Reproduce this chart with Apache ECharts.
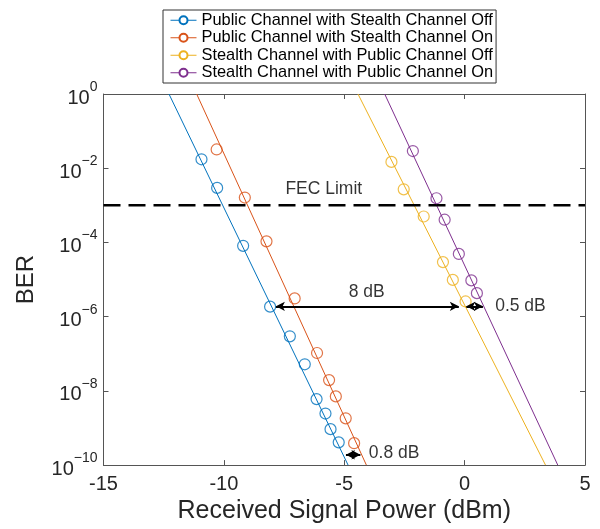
<!DOCTYPE html>
<html>
<head>
<meta charset="utf-8">
<script src="https://cdn.jsdelivr.net/npm/echarts@6/dist/echarts.min.js"></script>
<style>
  html, body { margin: 0; padding: 0; background: #fff; }
  #chart { width: 600px; height: 529px; }
</style>
</head>
<body>
<div id="chart"></div>
<script>
const names = [
  "Public Channel with Stealth Channel Off",
  "Public Channel with Stealth Channel On",
  "Stealth Channel with Public Channel Off",
  "Stealth Channel with Public Channel On"
];
const colors = ["#0072BD", "#D95319", "#EDB120", "#7E2F8E"];

// measured points: received power (dBm) and BER
const pubOffPower = [-10.93, -10.28, -9.20, -8.08, -7.26, -6.64, -6.15, -5.78, -5.57, -5.23];
const pubOffBer = [1.74e-2, 2.95e-3, 8.1e-5, 1.86e-6, 2.95e-7, 5.2e-8, 6.0e-9, 2.45e-9, 9.3e-10, 4.1e-10];
const pubOnPower = [-10.30, -9.13, -8.23, -7.06, -6.13, -5.63, -5.35, -4.94, -4.59];
const pubOnBer = [3.2e-2, 1.62e-3, 1.07e-4, 3.1e-6, 1.05e-7, 1.95e-8, 7.1e-9, 1.82e-9, 3.9e-10];
const stOffPower = [-3.04, -2.53, -1.70, -0.90, -0.49, 0.04];
const stOffBer = [1.48e-2, 2.7e-3, 5.0e-4, 2.95e-5, 9.8e-6, 2.57e-6];
const stOnPower = [-2.15, -1.17, -0.83, -0.24, 0.28, 0.51];
const stOnBer = [2.9e-2, 1.55e-3, 4.1e-4, 4.9e-5, 9.5e-6, 4.3e-6];

// fitted lines, power where the fit hits BER = 1 and BER = 1e-10
const fitBer = [1, 1e-10];
const pubOffFit = [-12.28, -4.84];
const pubOnFit = [-11.13, -4.08];
const stOffFit = [-4.43, 3.36];
const stOnFit = [-3.32, 3.87];

const fecLevel = 1e-3;
const fecPower = [-15, 5];

// annotations
const noteText = ["FEC Limit", "8 dB", "0.5 dB", "0.8 dB"];
const notePower = [-5.85, -4.07, 2.32, -2.93];
const noteBer = [2.75e-3, 4.68e-6, 1.9e-6, 2.1e-10];
const arrowFrom = [-7.84, 0.07, -4.93];
const arrowTo = [-0.24, 0.76, -4.33];
const arrowBer = [1.9e-6, 1.9e-6, 1.9e-10];

const xTicks = { min: -15, max: 5, step: 5 };
const yTicks = { min: 1e-10, max: 1, step: 2 };

const font = "Liberation Sans";
const axisColor = "#555";

const pts = (xs, ys) => xs.map((x, i) => [x, ys[i]]);

let myChart = echarts.init(document.getElementById("chart"));

const fits = [pubOffFit, pubOnFit, stOffFit, stOnFit];
const meas = [
  pts(pubOffPower, pubOffBer),
  pts(pubOnPower, pubOnBer),
  pts(stOffPower, stOffBer),
  pts(stOnPower, stOnBer)
];

let series = [];
for (let i = 0; i < 4; i++) {
  // fit line; its circle symbol is only used by the legend icon
  series.push({
    name: names[i],
    type: "line",
    data: pts(fits[i], fitBer),
    symbol: "circle",
    showSymbol: false,
    lineStyle: { color: colors[i], width: 1 },
    itemStyle: { color: "#fff", borderColor: colors[i], borderWidth: 1 },
    silent: true,
    z: 2
  });
}
series.push({
  name: "FEC",
  type: "line",
  data: pts(fecPower, [fecLevel, fecLevel]),
  showSymbol: false,
  lineStyle: { color: "#000", width: 2.5, type: [17, 8] },
  silent: true,
  z: 3
});
for (let i = 0; i < 4; i++) {
  series.push({
    name: names[i] + " data",
    type: "scatter",
    data: meas[i],
    symbol: "circle",
    symbolSize: 11,
    itemStyle: { color: "rgba(0,0,0,0)", borderColor: colors[i], borderWidth: 1.2 },
    z: 4
  });
}
series.push({
  name: "notes",
  type: "scatter",
  data: notePower.map((x, i) => [x, noteBer[i], noteText[i]]),
  symbolSize: 0,
  label: {
    show: true,
    position: "inside",
    formatter: (p) => p.value[2],
    fontFamily: font,
    fontSize: 17.5,
    color: "#000"
  },
  markLine: {
    silent: true,
    symbol: ["arrow", "arrow"],
    symbolSize: [7, 9],
    label: { show: false },
    lineStyle: { color: "#000", width: 2, type: "solid" },
    data: arrowFrom.map((x, i) => [
      { coord: [x, arrowBer[i]] },
      { coord: [arrowTo[i], arrowBer[i]] }
    ])
  },
  z: 5
});

const supFormatter = (v) => {
  let e = Math.round(Math.log10(v));
  return "{b|10}{s|" + String(e).replace("-", "\u2212") + "}";
};

const boxAxis = {
  axisLine: { show: true, onZero: false, lineStyle: { color: axisColor, width: 1 } },
  axisTick: { show: true, inside: true, length: 5, lineStyle: { color: axisColor } },
  splitLine: { show: false }
};

let option = {
  animation: false,
  backgroundColor: "#fff",
  textStyle: { fontFamily: font },
  grid: { left: 103.5, right: 15, top: 94, bottom: 56, containLabel: false },
  legend: {
    data: names,
    orient: "vertical",
    left: 163,
    top: 10,
    padding: [2, 3, 2, 7],
    itemWidth: 26,
    itemHeight: 10,
    itemGap: 1,
    borderColor: "#333",
    borderWidth: 1,
    borderRadius: 0,
    backgroundColor: "#fff",
    selectedMode: false,
    lineStyle: { width: 1 },
    textStyle: { fontFamily: font, fontSize: 16.4, color: "#000", lineHeight: 16.5 }
  },
  xAxis: [
    Object.assign({}, boxAxis, {
      type: "value",
      min: xTicks.min,
      max: xTicks.max,
      interval: xTicks.step,
      name: "Received Signal Power (dBm)",
      nameLocation: "middle",
      nameGap: 33,
      nameTextStyle: { fontFamily: font, fontSize: 25, color: "#262626" },
      axisLabel: { fontFamily: font, fontSize: 20, color: "#262626", margin: 9 }
    }),
    Object.assign({}, boxAxis, {
      type: "value",
      position: "top",
      min: xTicks.min,
      max: xTicks.max,
      interval: xTicks.step,
      axisLabel: { show: false }
    })
  ],
  yAxis: [
    Object.assign({}, boxAxis, {
      type: "log",
      logBase: 10,
      min: yTicks.min,
      max: yTicks.max,
      interval: yTicks.step,
      name: "BER",
      nameLocation: "middle",
      nameGap: 65,
      nameTextStyle: { fontFamily: font, fontSize: 24, color: "#262626" },
      axisLabel: {
        margin: 6,
        formatter: supFormatter,
        rich: {
          b: { fontFamily: font, fontSize: 20, color: "#262626", lineHeight: 28, verticalAlign: "bottom" },
          s: { fontFamily: font, fontSize: 14, color: "#262626", lineHeight: 14, verticalAlign: "top" }
        }
      },
      minorTick: { show: false }
    }),
    Object.assign({}, boxAxis, {
      type: "log",
      logBase: 10,
      position: "right",
      min: yTicks.min,
      max: yTicks.max,
      interval: yTicks.step,
      axisLabel: { show: false }
    })
  ],
  series: series
};

myChart.setOption(option);
</script>
</body>
</html>
